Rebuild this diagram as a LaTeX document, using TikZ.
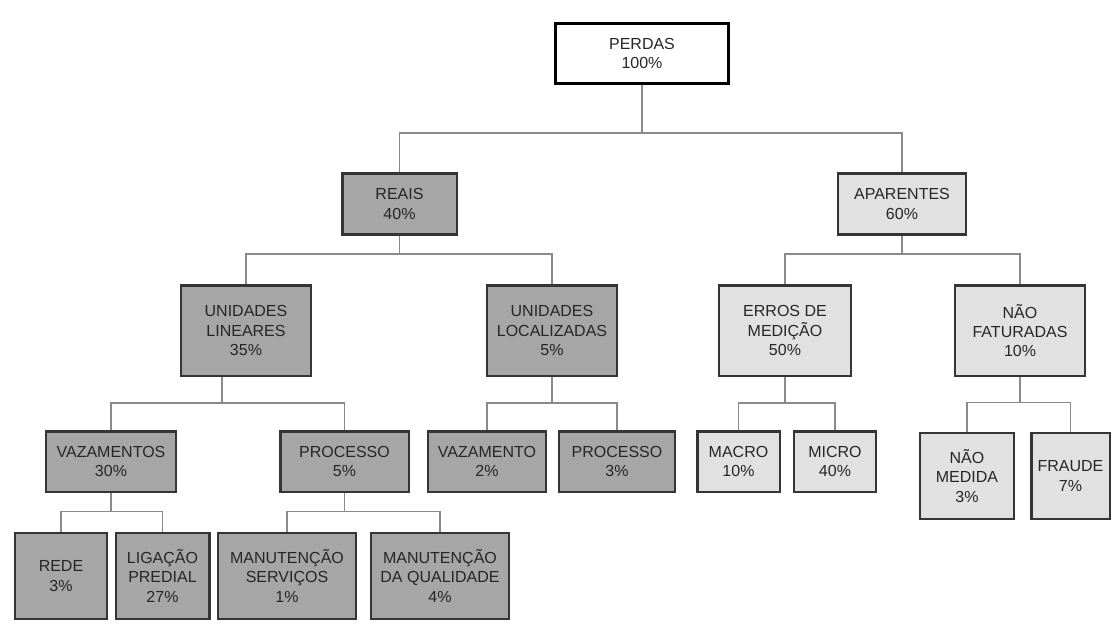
\documentclass[tikz,border=0pt]{standalone}
\usepackage{fontspec}
\setmainfont{Liberation Sans}
\usepackage{xcolor}
\definecolor{caixaEscura}{HTML}{A6A6A6}
\definecolor{caixaClara}{HTML}{E1E1E1}
\definecolor{borda}{HTML}{353535}
\definecolor{ligacao}{HTML}{8A8A8A}
\usepackage{tikz}
\usetikzlibrary{positioning,calc}

\begin{document}
\begin{tikzpicture}[x=0.75pt,y=-0.75pt,
    caixa/.style={draw=borda,line width=2pt,align=center,inner sep=0pt,
                  font=\fontsize{12}{14.5}\selectfont,text=black!85},
    escura/.style={caixa,fill=caixaEscura},
    clara/.style={caixa,fill=caixaClara},
    linha/.style={ligacao,line width=1.2pt}]
    \useasboundingbox (0,0) rectangle (1113,625);
    \node[caixa,draw=black,line width=2.2pt,fill=white,minimum width=130pt,minimum height=45.5pt] (perdas) at (642,53.5) {PERDAS\\100\%};
    \node[escura,minimum width=86pt,minimum height=46pt] (reais) at (399.5,204) {REAIS\\40\%};
    \node[clara,minimum width=96pt,minimum height=46pt] (aparentes) at (902,204) {APARENTES\\60\%};
    \node[escura,minimum width=97.5pt,minimum height=68pt] (lineares) at (246,330.5) {UNIDADES\\LINEARES\\35\%};
    \node[escura,minimum width=97.5pt,minimum height=68pt] (localizadas) at (552,330.5) {UNIDADES\\LOCALIZADAS\\5\%};
    \node[clara,minimum width=99pt,minimum height=68pt] (medicao) at (785,330.5) {ERROS DE\\MEDIÇÃO\\50\%};
    \node[clara,minimum width=97.5pt,minimum height=68pt] (faturadas) at (1020,330.5) {NÃO\\FATURADAS\\10\%};
    \node[escura,minimum width=97.5pt,minimum height=45.5pt] (vazamentos) at (111,461.5) {VAZAMENTOS\\30\%};
    \node[escura,minimum width=96.5pt,minimum height=45.5pt] (processoL) at (344.5,461.5) {PROCESSO\\5\%};
    \node[escura,minimum width=88.5pt,minimum height=45.5pt] (vazamento) at (487,461.5) {VAZAMENTO\\2\%};
    \node[escura,minimum width=87pt,minimum height=45.5pt] (processoP) at (617,461.5) {PROCESSO\\3\%};
    \node[clara,minimum width=62pt,minimum height=45.5pt] (macro) at (738.5,461.5) {MACRO\\10\%};
    \node[clara,minimum width=61.5pt,minimum height=45.5pt] (micro) at (835,461.5) {MICRO\\40\%};
    \node[clara,minimum width=70.5pt,minimum height=64.5pt] (naomedida) at (967,476) {NÃO\\MEDIDA\\3\%};
    \node[clara,minimum width=59pt,minimum height=64.5pt] (fraude) at (1070.5,476) {FRAUDE\\7\%};
    \node[escura,minimum width=69pt,minimum height=64.5pt] (rede) at (61,576) {REDE\\3\%};
    \node[escura,minimum width=70pt,minimum height=64.5pt] (predial) at (162.5,576) {LIGAÇÃO\\PREDIAL\\27\%};
    \node[escura,minimum width=103.5pt,minimum height=64.5pt] (servicos) at (287,576) {MANUTENÇÃO\\SERVIÇOS\\1\%};
    \node[escura,minimum width=103.5pt,minimum height=64.5pt] (qualidade) at (440,576) {MANUTENÇÃO\\DA QUALIDADE\\4\%};

    \draw[linha] (reais.north) -- ++(0,-39) coordinate (h1) -| (aparentes.north);
    \draw[linha] (perdas.south) -- (perdas.south |- h1);
    \draw[linha] (lineares.north) -- ++(0,-30) coordinate (h2) -| (localizadas.north);
    \draw[linha] (reais.south) -- (reais.south |- h2);
    \draw[linha] (medicao.north) -- ++(0,-30) coordinate (h3) -| (faturadas.north);
    \draw[linha] (aparentes.south) -- (aparentes.south |- h3);
    \draw[linha] (vazamentos.north) -- ++(0,-27) coordinate (h4) -| (processoL.north);
    \draw[linha] ([xshift=-18pt]lineares.south) -- ([xshift=-18pt]lineares.south |- h4);
    \draw[linha] (vazamento.north) -- ++(0,-27) coordinate (h5) -| (processoP.north);
    \draw[linha] (localizadas.south) -- (localizadas.south |- h5);
    \draw[linha] (macro.north) -- ++(0,-27) coordinate (h6) -| (micro.north);
    \draw[linha] (medicao.south) -- (medicao.south |- h6);
    \draw[linha] (naomedida.north) -- ++(0,-29) coordinate (h7) -| (fraude.north);
    \draw[linha] (faturadas.south) -- (faturadas.south |- h7);
    \draw[linha] (rede.north) -- ++(0,-20) coordinate (h8) -| (predial.north);
    \draw[linha] (vazamentos.south) -- (vazamentos.south |- h8);
    \draw[linha] (servicos.north) -- ++(0,-20) coordinate (h9) -| (qualidade.north);
    \draw[linha] (processoL.south) -- (processoL.south |- h9);
\end{tikzpicture}
\end{document}
